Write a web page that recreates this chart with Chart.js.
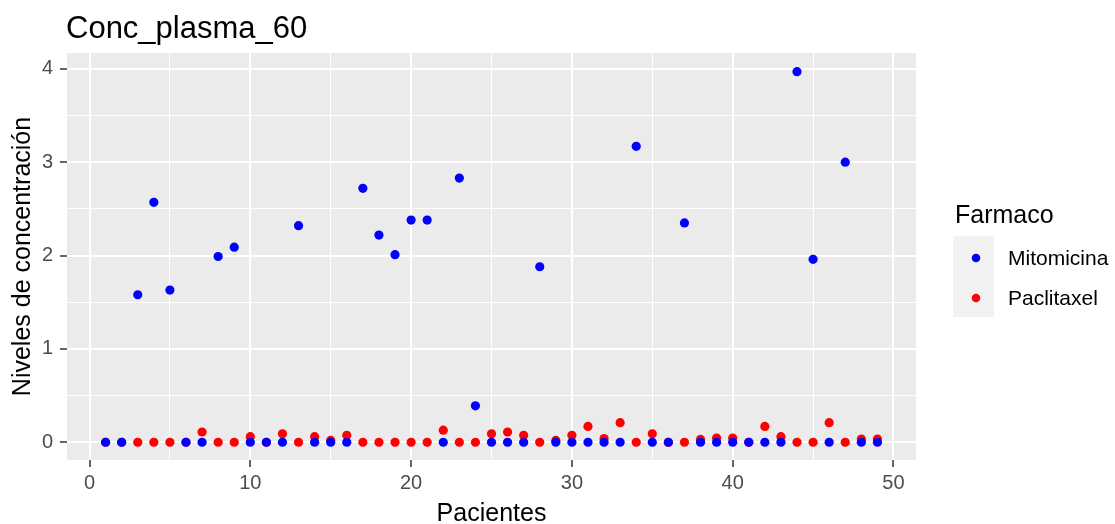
<!DOCTYPE html>
<html lang="es">
<head>
    <meta charset="UTF-8">
    <title>Conc_plasma_60</title>
    <script src="https://cdn.jsdelivr.net/npm/chart.js"></script>
    <style>
        body { margin: 0; background: #fff; }
        #caja { width: 1115px; height: 524px; }
    </style>
</head>
<body>
    <div id="caja"><canvas id="grafico"></canvas></div>

    <script>
        let pacientes = [1, 2, 3, 4, 5, 6, 7, 8, 9, 10, 11, 12, 13, 14, 15, 16, 17, 18, 19, 20,
            21, 22, 23, 24, 25, 26, 27, 28, 29, 30, 31, 32, 33, 34, 35, 36, 37, 38, 39, 40,
            41, 42, 43, 44, 45, 46, 47, 48, 49];
        let mitomicina = [0, 0, 1.58, 2.57, 1.63, 0, 0, 1.99, 2.09, 0, 0, 0, 2.32, 0, 0, 0, 2.72, 2.22, 2.01, 2.38,
            2.38, 0, 2.83, 0.39, 0, 0, 0, 1.88, 0, 0, 0, 0, 0, 3.17, 0, 0, 2.35, 0, 0, 0,
            0, 0, 0, 3.97, 1.96, 0, 3.0, 0, 0];
        let paclitaxel = [0, 0, 0, 0, 0, 0, 0.11, 0, 0, 0.06, 0, 0.09, 0, 0.06, 0.02, 0.075, 0, 0, 0, 0,
            0, 0.13, 0, 0, 0.09, 0.11, 0.075, 0, 0.02, 0.075, 0.17, 0.04, 0.21, 0, 0.09, 0, 0, 0.03, 0.045, 0.045,
            0, 0.17, 0.06, 0, 0, 0.21, 0, 0.035, 0.035];
        let farmacos = ["Mitomicina", "Paclitaxel"];
        let colores = ["#0000ff", "#ff0000"];
        let ticksX = [0, 5, 10, 15, 20, 25, 30, 35, 40, 45, 50];
        let ticksY = [0, 0.5, 1, 1.5, 2, 2.5, 3, 3.5, 4];

        const fuente = '"Liberation Sans", Arial, sans-serif';

        function puntos(valores) {
            return pacientes.map((p, i) => ({ x: p, y: valores[i] }));
        }

        function esMayor(v, paso) {
            return Math.abs(v / paso - Math.round(v / paso)) < 1e-9;
        }

        const fondoPanel = {
            id: 'fondoPanel',
            beforeDraw(chart) {
                const { ctx, chartArea: a } = chart;
                ctx.save();
                ctx.fillStyle = '#ebebeb';
                ctx.fillRect(a.left, a.top, a.right - a.left, a.bottom - a.top);
                ctx.restore();
            }
        };

        // titulo y leyenda al estilo ggplot
        const extras = {
            id: 'extras',
            afterDraw(chart) {
                const ctx = chart.ctx;
                ctx.save();
                ctx.fillStyle = '#000';
                ctx.textBaseline = 'alphabetic';
                ctx.font = '31px ' + fuente;
                ctx.fillText('Conc_plasma_60', 66, 38);

                ctx.font = '25px ' + fuente;
                ctx.fillText('Farmaco', 955, 223);

                ctx.fillStyle = '#f2f2f2';
                ctx.fillRect(953, 236, 41, 81);

                farmacos.forEach((f, i) => {
                    let y = 258 + i * 40;
                    ctx.fillStyle = colores[i];
                    ctx.beginPath();
                    ctx.arc(976, y, 4.3, 0, Math.PI * 2);
                    ctx.fill();
                    ctx.fillStyle = '#000';
                    ctx.font = '21px ' + fuente;
                    ctx.textBaseline = 'middle';
                    ctx.fillText(f, 1008, y + 1);
                });
                ctx.restore();
            }
        };

        function ejeGrid(paso) {
            return {
                color: '#ffffff',
                lineWidth: c => esMayor(c.tick.value, paso) ? 2 : 1,
                tickColor: c => esMayor(c.tick.value, paso) ? '#333333' : 'rgba(0,0,0,0)',
                tickWidth: 1.5,
                tickLength: 7
            };
        }

        new Chart(document.getElementById('grafico'), {
            type: 'scatter',
            data: {
                datasets: [
                    { label: farmacos[0], data: puntos(mitomicina), backgroundColor: colores[0], borderWidth: 0, pointRadius: 4.6, pointHoverRadius: 4.6 },
                    { label: farmacos[1], data: puntos(paclitaxel), backgroundColor: colores[1], borderWidth: 0, pointRadius: 4.6, pointHoverRadius: 4.6 }
                ]
            },
            options: {
                responsive: true,
                maintainAspectRatio: false,
                animation: false,
                layout: { padding: { left: 0, right: 199, top: 53, bottom: 0 } },
                plugins: { legend: { display: false }, tooltip: { enabled: false } },
                scales: {
                    x: {
                        type: 'linear',
                        min: -1.4,
                        max: 51.4,
                        afterBuildTicks: s => { s.ticks = ticksX.map(v => ({ value: v })); },
                        afterFit: s => { s.height = 64; },
                        border: { display: false },
                        grid: ejeGrid(10),
                        ticks: {
                            color: '#4d4d4d',
                            font: { family: fuente, size: 20 },
                            padding: 4,
                            maxRotation: 0,
                            autoSkip: false,
                            callback: v => esMayor(v, 10) ? String(v) : ''
                        },
                        title: {
                            display: true,
                            text: 'Pacientes',
                            color: '#000',
                            font: { family: fuente, size: 25, lineHeight: 1 },
                            padding: { top: 0, bottom: -2.5 }
                        }
                    },
                    y: {
                        min: -0.19,
                        max: 4.17,
                        afterBuildTicks: s => { s.ticks = ticksY.map(v => ({ value: v })); },
                        afterFit: s => { s.width = 67; },
                        border: { display: false },
                        grid: ejeGrid(1),
                        ticks: {
                            color: '#4d4d4d',
                            font: { family: fuente, size: 20 },
                            padding: 7,
                            autoSkip: false,
                            callback: v => esMayor(v, 1) ? String(v) : ''
                        },
                        title: {
                            display: true,
                            text: 'Niveles de concentración',
                            color: '#000',
                            font: { family: fuente, size: 25, lineHeight: 1 },
                            padding: { top: 11, bottom: 0 }
                        }
                    }
                }
            },
            plugins: [fondoPanel, extras]
        });
    </script>
</body>
</html>
